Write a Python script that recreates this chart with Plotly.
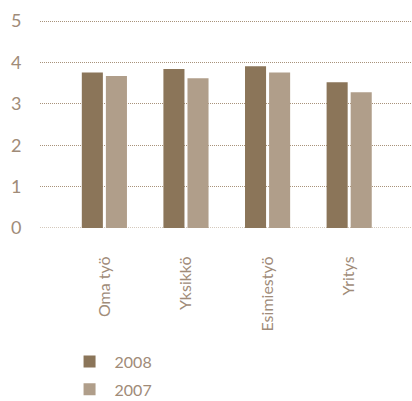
import plotly.graph_objects as go

categories = ["Oma työ", "Yksikkö", "Esimiestyö", "Yritys"]
values_2008 = [3.76, 3.84, 3.91, 3.52]
values_2007 = [3.67, 3.62, 3.76, 3.28]
series_names = ["2008", "2007"]
y_ticks = [0, 1, 2, 3, 4, 5]

c2008 = "#8b7559"
c2007 = "#b09e8a"
txt = "#a08b78"
grid = "#a8927a"
font = "Lato, Open Sans, sans-serif"

fig = go.Figure()
fig.add_trace(go.Bar(x=categories, y=values_2008, name=series_names[0],
                     marker=dict(color=c2008, line=dict(width=0)), legendgroup="a"))
fig.add_trace(go.Bar(x=categories, y=values_2007, name=series_names[1],
                     marker=dict(color=c2007, line=dict(width=0)), legendgroup="b"))

fig.update_layout(
    width=412, height=401,
    margin=dict(l=40, r=0, t=19, b=173, autoexpand=False),
    paper_bgcolor="white", plot_bgcolor="white",
    barmode="group", bargap=0.41, bargroupgap=0.125,
    font=dict(family=font, color=txt),
    showlegend=True,
    legend=dict(x=0.066, xanchor="left", y=-0.558, yanchor="top",
                font=dict(size=16, color=txt), tracegroupgap=4, itemwidth=40,
                bgcolor="rgba(0,0,0,0)"),
    xaxis=dict(range=[-0.789, 3.77], showgrid=False, showline=False, zeroline=False,
               automargin=False,
               tickangle=-90, tickfont=dict(size=16, color=txt),
               ticks="outside", ticklen=21, tickcolor="rgba(0,0,0,0)"),
    yaxis=dict(range=[0, 5.05], tickvals=y_ticks, ticktext=[str(v) for v in y_ticks],
               showgrid=True, gridcolor=grid, griddash="1px,1px", gridwidth=1,
               zeroline=False, showline=False, automargin=False,
               tickfont=dict(size=18, color=txt),
               ticks="outside", ticklen=14, tickcolor="rgba(0,0,0,0)"),
)
# zero baseline dotted like grid
fig.add_shape(type="line", xref="paper", yref="y", x0=0, x1=1, y0=0, y1=0,
              line=dict(color=grid, width=1, dash="1px,1px"), layer="below")

fig.write_html("out.html", config={"displayModeBar": False},
               post_script="document.body.style.margin='0';document.body.style.overflow='hidden';")
